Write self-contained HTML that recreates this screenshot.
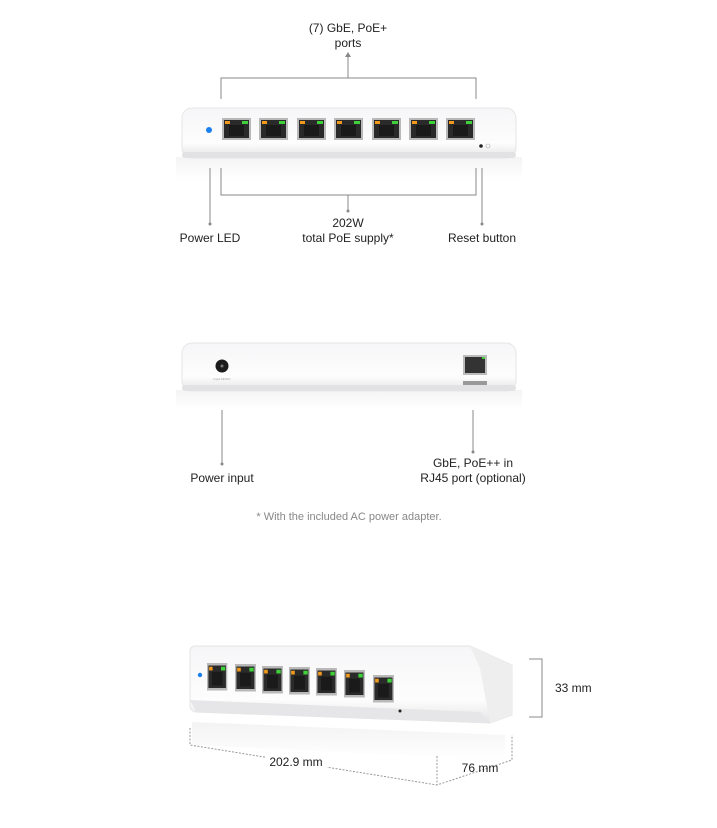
<!DOCTYPE html>
<html><head><meta charset="utf-8"><style>
html,body{margin:0;padding:0;background:#fff;width:717px;height:828px;overflow:hidden}
svg{position:absolute;left:0;top:0}
text{font-family:"Liberation Sans",sans-serif;fill:#222;font-size:12px}
</style></head><body>
<svg width="717" height="828" viewBox="0 0 717 828">
<defs>
<linearGradient id="body" x1="0" y1="0" x2="0" y2="1">
<stop offset="0" stop-color="#f6f6f8"/><stop offset="0.7" stop-color="#fdfdfd"/><stop offset="1" stop-color="#e4e4e6"/></linearGradient>
<linearGradient id="refl" x1="0" y1="0" x2="0" y2="1">
<stop offset="0" stop-color="#f4f4f4"/><stop offset="1" stop-color="#ffffff"/></linearGradient>
<linearGradient id="refl2" x1="0" y1="0" x2="0" y2="1">
<stop offset="0" stop-color="#f3f3f3"/><stop offset="1" stop-color="#ffffff"/></linearGradient>
<g id="port">
<rect x="0" y="0" width="29" height="22" fill="#b9b9b9"/>
<rect x="2" y="2" width="25" height="18" fill="#2a2a2a"/>
<rect x="3" y="3" width="5" height="3" fill="#f39a1d"/>
<rect x="20" y="3" width="6" height="3" fill="#3ed13a"/>
<rect x="7" y="7" width="15" height="11" fill="#1a1a1a"/>
</g>
</defs>

<!-- TOP DEVICE -->
<rect x="176" y="157" width="346" height="24" fill="url(#refl)"/>
<rect x="182" y="108" width="334" height="50" rx="10" fill="url(#body)" stroke="#e6e6e8"/>
<rect x="182" y="152" width="334" height="6" rx="3" fill="#e2e2e4"/>
<circle cx="209" cy="130" r="3" fill="#1a7ff0"/>
<use href="#port" x="222" y="118"/><use href="#port" x="259" y="118"/><use href="#port" x="297" y="118"/>
<use href="#port" x="334" y="118"/><use href="#port" x="372" y="118"/><use href="#port" x="409" y="118"/>
<use href="#port" x="446" y="118"/>
<circle cx="481" cy="146" r="1.8" fill="#222"/><circle cx="488" cy="146" r="2" fill="none" stroke="#aaa" stroke-width="0.6"/>

<g stroke="#888" stroke-width="1" fill="none">
<path d="M221 99V78H476V99"/>
<path d="M348 78V54"/>
<path d="M221 168V195H476V168"/>
<path d="M348 195V211"/>
<path d="M210 168V224"/>
<path d="M482 168V224"/>
<path d="M222 402V464"/>
<path d="M473 402V452"/>
</g>
<path d="M345 57L348 52L351 57Z" fill="#888"/>
<g fill="#888"><circle cx="348" cy="211" r="1.5"/><circle cx="210" cy="224" r="1.5"/><circle cx="482" cy="224" r="1.5"/><circle cx="222" cy="464" r="1.5"/><circle cx="473" cy="452" r="1.5"/></g>

<text x="348" y="32" text-anchor="middle">(7) GbE, PoE+</text>
<text x="348" y="47" text-anchor="middle">ports</text>
<text x="210" y="242" text-anchor="middle">Power LED</text>
<text x="348" y="227" text-anchor="middle">202W</text>
<text x="348" y="242" text-anchor="middle">total PoE supply*</text>
<text x="482" y="242" text-anchor="middle">Reset button</text>

<!-- MIDDLE DEVICE -->
<rect x="176" y="390" width="346" height="20" fill="url(#refl)"/>
<rect x="182" y="343" width="334" height="48" rx="10" fill="url(#body)" stroke="#e6e6e8"/>
<rect x="182" y="385" width="334" height="6" rx="3" fill="#e2e2e4"/>
<circle cx="222" cy="366" r="6.5" fill="#1c1c1c"/><circle cx="222" cy="366" r="1.5" fill="#777"/>
<text x="222" y="380" text-anchor="middle" style="font-size:3px;fill:#999">Input 54VDC</text>
<rect x="463" y="355" width="24" height="20" fill="#bbb"/><rect x="465" y="357" width="20" height="16" fill="#333"/>
<rect x="482" y="357" width="3" height="2" fill="#3ed13a"/>
<rect x="463" y="381" width="24" height="4" fill="#999"/>
<text x="222" y="482" text-anchor="middle">Power input</text>
<text x="473" y="467" text-anchor="middle">GbE, PoE++ in</text>
<text x="473" y="482" text-anchor="middle">RJ45 port (optional)</text>
<text x="349" y="520" text-anchor="middle" style="fill:#888;font-size:11px">* With the included AC power adapter.</text>

<!-- BOTTOM DEVICE -->
<path d="M192 722 L505 735 L505 760 L192 745Z" fill="url(#refl2)"/>
<path d="M196 646 L470 646 L512 665 L512 715 L490 723 L196 712 Q190 711 190 705 L190 652 Q190 646 196 646Z" fill="url(#body)" stroke="#e4e4e6"/>
<path d="M470 646 L512 665 L512 715 L490 723 L480 668Z" fill="#eeeeef"/>
<path d="M190 700 L480 712 L490 723 L196 712Z" fill="#e6e6e8"/>
<circle cx="200" cy="675" r="2.2" fill="#1a7ff0"/>
<use href="#port" x="207" y="663" transform="translate(207 663) scale(0.7 1.25) translate(-207 -663)"/>
<use href="#port" x="235" y="664" transform="translate(235 664) scale(0.72 1.25) translate(-235 -664)"/>
<use href="#port" x="262" y="666" transform="translate(262 666) scale(0.72 1.25) translate(-262 -666)"/>
<use href="#port" x="289" y="667" transform="translate(289 667) scale(0.72 1.25) translate(-289 -667)"/>
<use href="#port" x="316" y="668" transform="translate(316 668) scale(0.72 1.25) translate(-316 -668)"/>
<use href="#port" x="344" y="670" transform="translate(344 670) scale(0.72 1.25) translate(-344 -670)"/>
<use href="#port" x="373" y="675" transform="translate(373 675) scale(0.72 1.25) translate(-373 -675)"/>
<circle cx="400" cy="711" r="1.5" fill="#222"/>
<g stroke="#888" stroke-width="1" fill="none">
<path d="M529 659H542V717H529"/>
</g>
<g stroke="#999" stroke-width="1" fill="none" stroke-dasharray="2 1.5">
<path d="M190 728V745L437 785L512 760V735"/>
<path d="M437 756V785"/>
</g>
<rect x="265" y="752" width="62" height="18" fill="#fff"/>
<text x="555" y="692">33 mm</text>
<text x="296" y="766" text-anchor="middle">202.9 mm</text>
<text x="480" y="772" text-anchor="middle">76 mm</text>
</svg>
</body></html>
